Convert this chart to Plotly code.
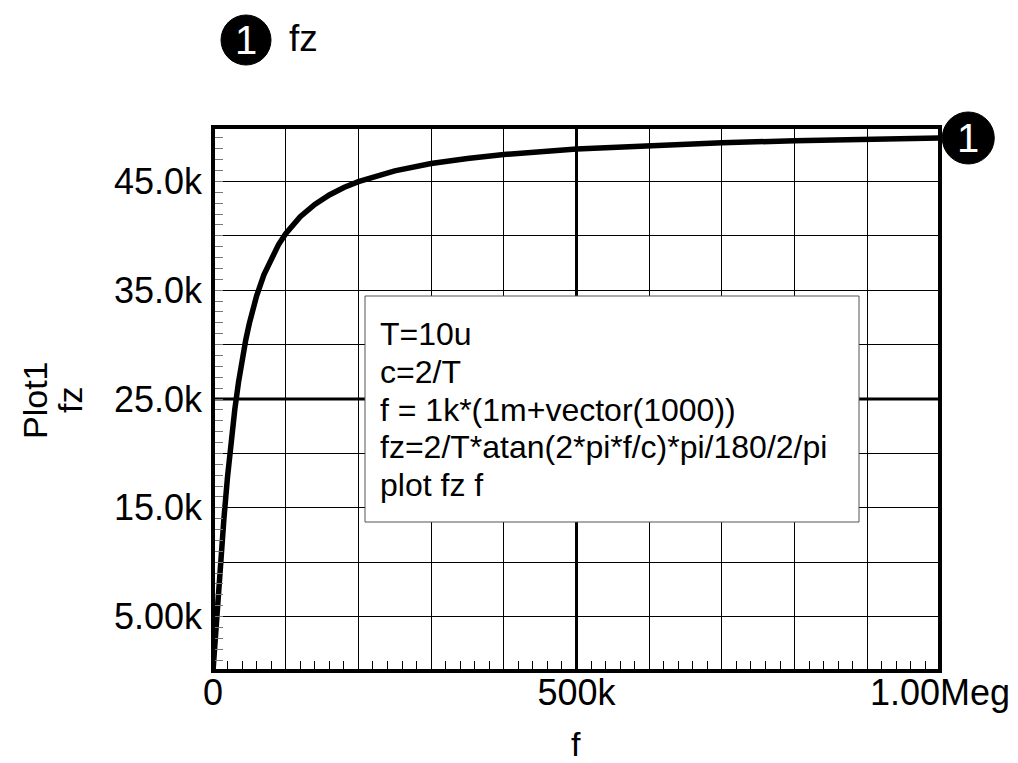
import plotly.graph_objects as go

# ---- data ----
f_hz = [1, 2000, 4000, 6000, 8000, 10000, 15000, 20000, 25000, 30000, 35000,
        40000, 45000, 50000, 60000, 70000, 80000, 90000, 100000, 120000,
        140000, 160000, 180000, 200000, 250000, 300000, 350000, 400000,
        500000, 600000, 700000, 800000, 900000, 999000]
fz_vals = [1, 2000, 3980, 5930, 7840, 9690, 14000, 17860, 21190, 24050, 26510,
           28610, 30410, 31950, 34480, 36420, 37950, 39170, 40190, 41750,
           42890, 43750, 44440, 44980, 45970, 46640, 47110, 47470,
           47980, 48310, 48560, 48730, 48870, 48990]

x_tick_vals = [0, 100000, 200000, 300000, 400000, 500000, 600000, 700000,
               800000, 900000, 1000000]
x_tick_text = ["0", "", "", "", "", "500k", "", "", "", "", "1.00Meg"]
y_tick_vals = [0, 5000, 10000, 15000, 20000, 25000, 30000, 35000, 40000,
               45000, 50000]
y_tick_text = ["", "5.00k", "", "15.0k", "", "25.0k", "", "35.0k", "",
               "45.0k", ""]
x_range = [0, 1000000]
y_range = [0, 50000]
x_major_line = 500000
y_major_line = 25000
trace_name = "fz"
trace_id = "1"
y_title_lines = ["Plot1", "fz"]
x_title = "f"
note_lines = ["T=10u", "c=2/T", "f = 1k*(1m+vector(1000))",
              "fz=2/T*atan(2*pi*f/c)*pi/180/2/pi", "plot fz f"]

# ---- layout constants ----
FONT = "Liberation Sans, Arial, sans-serif"
W, H = 1018, 763
L, R, T, B = 213, 78, 127, 92
PW, PH = W - L - R, H - T - B


def px_x(p):
    return (p - L) / PW


def px_y(p):
    return (H - B - p) / PH


fig = go.Figure()
fig.add_trace(go.Scatter(
    x=f_hz, y=fz_vals, mode="lines", name=trace_name,
    line=dict(color="black", width=5.5), showlegend=False,
))

shapes = []
# thick centre grid lines
shapes.append(dict(type="line", xref="x", yref="paper", x0=x_major_line,
                   x1=x_major_line, y0=0, y1=1, layer="below",
                   line=dict(color="black", width=3)))
shapes.append(dict(type="line", xref="paper", yref="y", x0=0, x1=1,
                   y0=y_major_line, y1=y_major_line, layer="below",
                   line=dict(color="black", width=3)))
# frame
shapes.append(dict(type="rect", xref="paper", yref="paper", x0=0, x1=1,
                   y0=0, y1=1, line=dict(color="black", width=4)))

# note box
shapes.append(dict(type="rect", xref="paper", yref="paper",
                   x0=px_x(365), x1=px_x(859), y0=px_y(522), y1=px_y(296),
                   fillcolor="white", line=dict(color="#555555", width=1),
                   layer="above"))

# end-of-trace marker anchored at the last data point
x_end = (f_hz[-1] - x_range[0]) / (x_range[1] - x_range[0])
y_end = (fz_vals[-1] - y_range[0]) / (y_range[1] - y_range[0])
shapes.append(dict(type="circle", xref="paper", yref="paper",
                   xsizemode="pixel", ysizemode="pixel",
                   xanchor=x_end, yanchor=y_end,
                   x0=3, x1=55, y0=-26, y1=26,
                   fillcolor="black", line=dict(color="black", width=1)))

# legend marker at the top
leg_cx, leg_cy = px_x(246), px_y(40)
shapes.append(dict(type="circle", xref="paper", yref="paper",
                   xsizemode="pixel", ysizemode="pixel",
                   xanchor=leg_cx, yanchor=leg_cy,
                   x0=-25, x1=25, y0=-25, y1=25,
                   fillcolor="black", line=dict(color="black", width=1)))

annotations = []
annotations.append(dict(xref="paper", yref="paper", x=x_end, y=y_end,
                        xshift=29, yshift=0, text=trace_id, showarrow=False,
                        font=dict(family=FONT, size=40, color="white"),
                        xanchor="center", yanchor="middle"))
annotations.append(dict(xref="paper", yref="paper", x=leg_cx, y=leg_cy,
                        text=trace_id, showarrow=False,
                        font=dict(family=FONT, size=40, color="white"),
                        xanchor="center", yanchor="middle"))
annotations.append(dict(xref="paper", yref="paper", x=px_x(287), y=px_y(38),
                        text=trace_name, showarrow=False,
                        font=dict(family=FONT, size=37, color="black"),
                        xanchor="left", yanchor="middle"))
# axis titles
annotations.append(dict(xref="paper", yref="paper", x=px_x(35), y=px_y(400),
                        text=y_title_lines[0], showarrow=False, textangle=-90,
                        font=dict(family=FONT, size=34, color="black"),
                        xanchor="center", yanchor="middle"))
annotations.append(dict(xref="paper", yref="paper", x=px_x(70), y=px_y(400),
                        text=y_title_lines[1], showarrow=False, textangle=-90,
                        font=dict(family=FONT, size=34, color="black"),
                        xanchor="center", yanchor="middle"))
annotations.append(dict(xref="paper", yref="paper", x=px_x(576), y=px_y(744),
                        text=x_title, showarrow=False,
                        font=dict(family=FONT, size=34, color="black"),
                        xanchor="center", yanchor="middle"))
# note text, one line per annotation
for i, line in enumerate(note_lines):
    annotations.append(dict(xref="paper", yref="paper", x=px_x(378),
                            y=px_y(334 + 37.8 * i), text=line,
                            showarrow=False, xanchor="left", yanchor="middle",
                            font=dict(family=FONT, size=32, color="black")))

fig.update_layout(
    width=W, height=H,
    margin=dict(l=L, r=R, t=T, b=B, pad=0, autoexpand=False),
    paper_bgcolor="white", plot_bgcolor="white",
    font=dict(family=FONT, color="black"),
    shapes=shapes, annotations=annotations,
    xaxis=dict(
        range=x_range, tickmode="array", tickvals=x_tick_vals,
        ticktext=x_tick_text, ticks="", showgrid=True, gridcolor="black",
        gridwidth=1, zeroline=False, showline=False, automargin=False,
        tickfont=dict(family=FONT, size=36), ticklabelstandoff=-3,
        minor=dict(dtick=20000, ticks="inside", ticklen=10, tickcolor="black",
                   tickwidth=1, showgrid=False),
    ),
    yaxis=dict(
        range=y_range, tickmode="array", tickvals=y_tick_vals,
        ticktext=y_tick_text, ticks="", showgrid=True, gridcolor="black",
        gridwidth=1, zeroline=False, showline=False, automargin=False,
        tickfont=dict(family=FONT, size=36), ticklabelstandoff=10,
        minor=dict(dtick=1000, ticks="inside", ticklen=10, tickcolor="#777777",
                   tickwidth=1, showgrid=False),
    ),
)

fig.write_html(
    "out.html",
    config={"displayModeBar": False},
    post_script="document.body.style.margin='0';document.body.style.padding='0';",
)
